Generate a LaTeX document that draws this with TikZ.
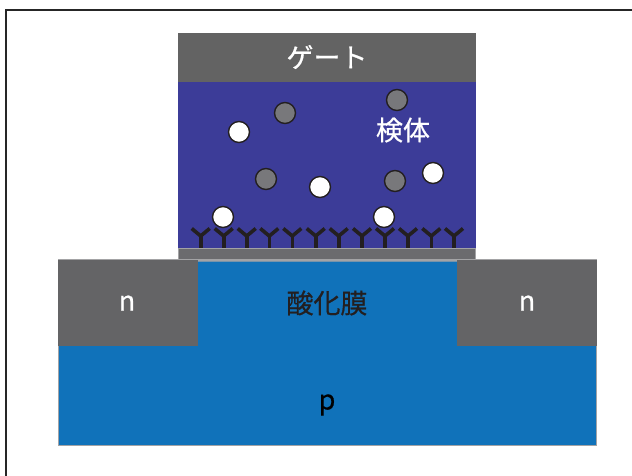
\documentclass[tikz,border=0pt]{standalone}
\usepackage{fontspec}
\setmainfont{Noto Sans CJK JP}
\newfontfamily\lblfont[FakeBold=0.6]{Noto Sans CJK JP}
\begin{document}
\begin{tikzpicture}[x=1pt,y=-1pt,
  gategray/.style={fill=gateC,draw=none},
  ntype/.style={fill=nC,draw=none},
  label/.style={font=\lblfont\fontsize{27}{27}\selectfont,inner sep=0pt},
  wlabel/.style={label,text=white},
  ag/.style={circle,minimum size=21pt,inner sep=0pt,draw=antiC,line width=1.4pt,fill=grayball},
  sample/.style={circle,minimum size=21pt,inner sep=0pt,draw=antiC,line width=1.4pt,fill=white},
  antibody/.style={draw=antiC,line width=3.6pt,line cap=butt,line join=miter}
]
\definecolor{gateC}{HTML}{636363}
\definecolor{solC}{HTML}{3C3C98}
\definecolor{pC}{HTML}{1072BA}
\definecolor{nC}{HTML}{646466}
\definecolor{antiC}{HTML}{231F20}
\definecolor{grayball}{HTML}{78787B}
\definecolor{stripC}{HTML}{6B6B6E}
\definecolor{edgeC}{HTML}{A3A3A5}
\useasboundingbox (0,0) rectangle (632,475);
\fill[white] (0,0) rectangle (632,475);
% outer frame
\draw[color=black!85,line width=2pt] (5.5,700) -- (5.5,9.5) -- (700,9.5);

% substrate
\draw[fill=pC,draw=edgeC,line width=1.2pt] (58.5,260) rectangle (596.5,445.5);
\node[label] (p) at (327,405) {p};
\draw[draw=edgeC!70!pC,line width=1pt] (198,261) -- (457,261);
% source / drain
\fill[ntype] (58,260) rectangle (198,346);
\fill[ntype] (457,260) rectangle (597,346);
\node[wlabel] (nl) at (127,303) {n};
\node[wlabel] (nr) at (527,303) {n};
\node[label,text=antiC] (ox) at (327,303) {酸化膜};

% sensing layer and solution
\draw[fill=stripC,draw=edgeC,line width=1.2pt] (178.6,248.6) rectangle (475.4,259.4);
\fill[solC] (178,82) rectangle (476,248);
% gate electrode
\fill[gategray] (178,33) rectangle (476,82);
\node[wlabel] (gate) at (327,57) {ゲート};
\node[wlabel] (sm) at (403,130) {検体};

% immobilised antibodies
\foreach \x in {200.7,223.7,246.7,269.3,292.3,315.7,338.7,362,385,408,431.3,454}{
  \draw[antibody] (\x-9,228.5) -- (\x,236) -- (\x+9,228.5);
  \draw[antibody] (\x,235) -- (\x,247.5);
}

% molecules in the sample
\node[ag] (g1) at (285,113) {};
\node[ag] (g2) at (397,100) {};
\node[ag] (g3) at (266,179) {};
\node[ag] (g4) at (395,181) {};
\node[sample] (w1) at (239,132) {};
\node[sample] (w2) at (320,187) {};
\node[sample] (w3) at (433,173) {};
\node[sample] (w4) at (223,217) {};
\node[sample] (w5) at (384,217) {};
\end{tikzpicture}
\end{document}
